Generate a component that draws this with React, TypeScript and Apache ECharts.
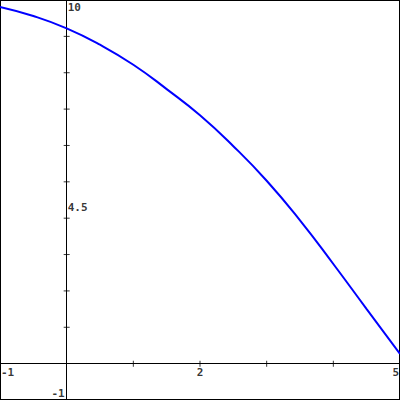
import React, { useEffect, useRef } from "react";
import * as echarts from "echarts";

const xValues = [-1, -0.5, 0, 0.5, 1, 1.5, 2, 2.5, 3, 3.5, 4, 4.5, 5];
const yValues = [9.81, 9.56, 9.22, 8.77, 8.22, 7.55, 6.83, 5.98, 5.03, 3.94, 2.74, 1.5, 0.27];
const xTickValues = [1, 2, 3, 4];
const yTickValues = [1, 2, 3, 4, 5, 6, 7, 8, 9, 10];
const xLabelValues = [-1, 2, 5];
const yLabelValues = [10, 4.5, -1];

const FONT = "DejaVu Sans Mono";

export default function App() {
  const ref = useRef<HTMLDivElement>(null);
  useEffect(() => {
    if (!ref.current) return;
    const chart = echarts.init(ref.current, undefined, { renderer: "svg" });
    const textStyle = {
      fontFamily: FONT,
      fontWeight: "bold" as const,
      fontSize: 11,
      color: "#000",
    };
    const xLabelData = xLabelValues.map((v, i) => ({
      value: [v, 0],
      label: {
        align: i === 0 ? "left" : i === xLabelValues.length - 1 ? "right" : "center",
        verticalAlign: "top",
        position: [i === 0 ? 1 : i === xLabelValues.length - 1 ? -1 : 0, 3],
      },
    }));
    const yLabelData = yLabelValues.map((v) => ({
      value: [0, v],
      label:
        v < 0
          ? { align: "right", verticalAlign: "bottom", position: [-2, -1] }
          : { align: "left", verticalAlign: "top", position: [1, 2] },
    }));
    chart.setOption({
      animation: false,
      grid: { left: 0, right: 0, top: 0, bottom: 0, containLabel: false, outerBoundsMode: "none" },
      xAxis: {
        type: "value",
        min: -1,
        max: 5,
        interval: 1,
        splitLine: { show: false },
        axisTick: { show: false },
        axisLabel: { show: false },
        axisLine: { show: true, onZero: true, lineStyle: { color: "#000", width: 1 } },
      },
      yAxis: {
        type: "value",
        min: -1,
        max: 10,
        interval: 1,
        splitLine: { show: false },
        axisTick: { show: false },
        axisLabel: { show: false },
        axisLine: { show: true, onZero: true, lineStyle: { color: "#000", width: 1 } },
      },
      series: [
        {
          name: "xTicks",
          type: "scatter",
          data: xTickValues.map((v) => [v, 0]),
          symbol: "rect",
          symbolSize: [1, 6],
          itemStyle: { color: "#000" },
          silent: true,
          clip: false,
        },
        {
          name: "yTicks",
          type: "scatter",
          data: yTickValues.map((v) => [0, v]),
          symbol: "rect",
          symbolSize: [6, 1],
          itemStyle: { color: "#000" },
          silent: true,
          clip: false,
        },
        {
          name: "xLabels",
          type: "scatter",
          data: xLabelData,
          symbolSize: 0,
          clip: false,
          label: { show: true, ...textStyle, formatter: (p: any) => String(p.value[0]) },
        },
        {
          name: "yLabels",
          type: "scatter",
          data: yLabelData,
          symbolSize: 0,
          clip: false,
          label: { show: true, ...textStyle, formatter: (p: any) => String(p.value[1]) },
        },
        {
          name: "curve",
          type: "line",
          data: xValues.map((x, i) => [x, yValues[i]]),
          smooth: true,
          showSymbol: false,
          lineStyle: { color: "#0000ff", width: 2 },
        },
      ],
    });
    return () => chart.dispose();
  }, []);
  return (
    <div
      style={{
        position: "fixed",
        left: 0,
        top: 0,
        width: 400,
        height: 400,
        boxSizing: "border-box",
        border: "1px solid #000",
        background: "#fff",
      }}
    >
      <div ref={ref} style={{ position: "absolute", left: -1, top: -1, width: 400, height: 400 }} />
    </div>
  );
}
